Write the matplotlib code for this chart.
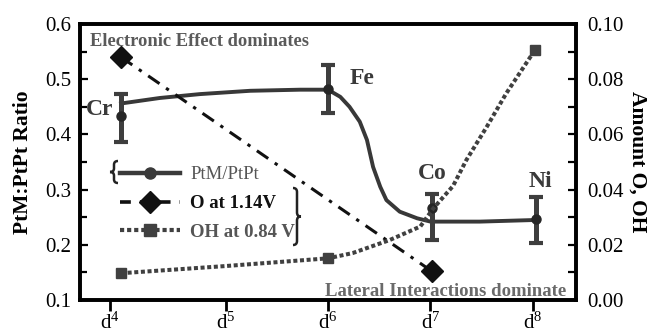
import numpy as np
import matplotlib
matplotlib.use("Agg")
import matplotlib.pyplot as plt
from matplotlib.lines import Line2D
from matplotlib.path import Path
from matplotlib.patches import PathPatch

plt.rcParams['font.family'] = ['Liberation Serif', 'DejaVu Serif']
plt.rcParams['mathtext.fontset'] = 'custom'
plt.rcParams['mathtext.rm'] = 'Liberation Serif'

# d-electron count axis
tick_pos = [3.87, 5.0, 6.0, 7.0, 8.0]
tick_labels = [r'$\mathregular{d^4}$', r'$\mathregular{d^5}$', r'$\mathregular{d^6}$',
               r'$\mathregular{d^7}$', r'$\mathregular{d^8}$']

# PtM/PtPt ratio per metal
metals = ['Cr', 'Fe', 'Co', 'Ni']
metal_x = [3.98, 6.0, 7.01, 8.03]
ratio = [0.433, 0.482, 0.266, 0.246]
ratio_err_lo = [0.046, 0.043, 0.058, 0.043]
ratio_err_hi = [0.040, 0.044, 0.026, 0.041]

# smooth guide through the ratio data
fit_x = [3.98, 4.36, 4.75, 5.24, 5.73, 6.0, 6.12, 6.21, 6.31, 6.38, 6.44,
         6.51, 6.57, 6.70, 6.87, 7.0, 7.48, 8.03]
fit_y = [0.456, 0.466, 0.473, 0.479, 0.481, 0.481, 0.468, 0.450, 0.423, 0.390,
         0.341, 0.305, 0.281, 0.260, 0.248, 0.242, 0.242, 0.245]

# O coverage at 1.14 V
o_x = [3.98, 7.01]
o_amount = [0.088, 0.0105]

# OH coverage at 0.84 V (markers + guide)
oh_x = [3.98, 6.0, 8.02]
oh_amount = [0.0097, 0.0151, 0.0906]
oh_fit_x = [3.98, 5.0, 6.0, 6.24, 6.60, 6.90, 7.03, 7.22, 7.35, 7.55, 7.74, 8.02]
oh_fit_y = [0.0097, 0.0123, 0.0151, 0.0170, 0.0217, 0.0266, 0.0333, 0.0413,
            0.0507, 0.0628, 0.0749, 0.0906]

W, H = 651, 336
fig = plt.figure(figsize=(W / 100, H / 100), dpi=100)
ax = fig.add_axes([80 / W, 1 - 300 / H, 496 / W, 276 / H])
ax2 = ax.twinx()

line_col = '#383838'
ax.plot(fit_x, fit_y, color=line_col, lw=2.8, zorder=3)
ax.errorbar(metal_x, ratio, yerr=[ratio_err_lo, ratio_err_hi], fmt='o',
            color='#262626', ms=6.5, ecolor='#3e3e3e', elinewidth=3.6,
            capsize=5, capthick=3, zorder=4)

ax2.plot(o_x, o_amount, color='#111111', lw=2.2,
         linestyle=(0, (4.5, 2.6, 1.1, 2.6)), zorder=3)
ax2.plot(o_x, o_amount, 'D', color='#111111', ms=11.5, zorder=5)
ax2.plot(oh_fit_x, oh_fit_y, color='#404040', lw=2.9,
         linestyle=(0, (1.0, 0.65)), zorder=3)
ax2.plot(oh_x, oh_amount, 's', color='#404040', ms=7, zorder=5)

ax.set_xlim(3.58, 8.42)
ax.set_ylim(0.1, 0.6)
ax2.set_ylim(0.0, 0.10)
ax.set_xticks(tick_pos)
ax.set_xticklabels(tick_labels, fontsize=15)
ax.set_yticks(np.arange(0.1, 0.61, 0.1))
ax.set_yticks(np.arange(0.15, 0.6, 0.1), minor=True)
ax.set_yticklabels(['0.1', '0.2', '0.3', '0.4', '0.5', '0.6'], fontsize=15)
ax2.set_yticks(np.arange(0.0, 0.101, 0.02))
ax2.set_yticks(np.arange(0.01, 0.1, 0.02), minor=True)
ax2.set_yticklabels(['0.00', '0.02', '0.04', '0.06', '0.08', '0.10'], fontsize=15)

ax.tick_params(axis='y', which='both', direction='in', width=1.6, pad=6)
ax.tick_params(axis='y', which='major', length=6)
ax.tick_params(axis='y', which='minor', length=5)
ax.tick_params(axis='x', direction='out', length=8, width=2, pad=1)
ax2.tick_params(axis='y', which='both', direction='in', length=6, width=1.6, pad=8)
for a in (ax, ax2):
    for s in a.spines.values():
        s.set_linewidth(2.6)

ax.set_ylabel('PtM:PtPt Ratio', fontsize=15.5, fontweight='bold', labelpad=9)
ax2.set_ylabel('Amount O, OH', fontsize=15.5, fontweight='bold',
               rotation=-90, labelpad=17)

lbl_col = '#3a3a3a'
label_pos = {'Cr': (3.64, 0.446, 'left'), 'Fe': (6.215, 0.502, 'left'),
             'Co': (7.02, 0.330, 'center'), 'Ni': (8.07, 0.315, 'center')}
for m in metals:
    x, y, ha = label_pos[m]
    ax.text(x, y, m, fontsize=17, fontweight='bold', color=lbl_col,
            ha=ha, va='center', zorder=6)

ax.text(3.68, 0.569, 'Electronic Effect dominates', fontsize=13.3,
        fontweight='bold', color='#5a5a5a', ha='left', va='center', zorder=6)
ax.text(8.32, 0.116, 'Lateral Interactions dominate', fontsize=13.5,
        fontweight='bold', color='#6a6a6a', ha='right', va='center', zorder=6)

handles = [
    Line2D([], [], color='#3a3a3a', lw=3.2, marker='o', ms=8),
    Line2D([], [], color='#111111', lw=2.6, linestyle=(0, (3, 2.5)), marker='D', ms=11),
    Line2D([], [], color='#404040', lw=3, linestyle=(0, (1, 0.7)), marker='s', ms=9),
]
leg = ax2.legend(handles, ['PtM/PtPt', 'O at 1.14V', 'OH at 0.84 V'],
                 loc='center left', bbox_to_anchor=(0.0726, 0.349), frameon=False,
                 fontsize=13.5, handlelength=3.2, handletextpad=0.55,
                 labelspacing=0.62, borderpad=0.2, borderaxespad=0)
texts = leg.get_texts()
texts[0].set_color('#555555')
texts[1].set_fontweight('bold')
texts[1].set_color('#111111')
texts[2].set_fontweight('bold')
texts[2].set_color('#555555')


def brace(x0, x1, top, bottom, lw=1.8):
    # curly brace in pixel coordinates (y down); tip at x1
    xm = (x0 + x1) / 2
    mid = (top + bottom) / 2
    r = min(4.0, (bottom - top) / 6)
    pts = [(x0, top), (xm, top), (xm, top + r), (xm, mid - r),
           (xm, mid), (x1, mid), (x1, mid),
           (xm, mid), (xm, mid + r), (xm, bottom - r),
           (xm, bottom), (x0, bottom)]
    codes = [Path.MOVETO, Path.CURVE3, Path.CURVE3, Path.LINETO,
             Path.CURVE3, Path.CURVE3, Path.MOVETO,
             Path.CURVE3, Path.CURVE3, Path.LINETO,
             Path.CURVE3, Path.CURVE3]
    pts = [(x / W, 1 - y / H) for x, y in pts]
    fig.add_artist(PathPatch(Path(pts, codes), fill=False, lw=lw,
                             color='#222222', transform=fig.transFigure))


brace(118, 110, 161, 183)
brace(293, 301, 188, 245)

fig.savefig('out.png', dpi=100)
